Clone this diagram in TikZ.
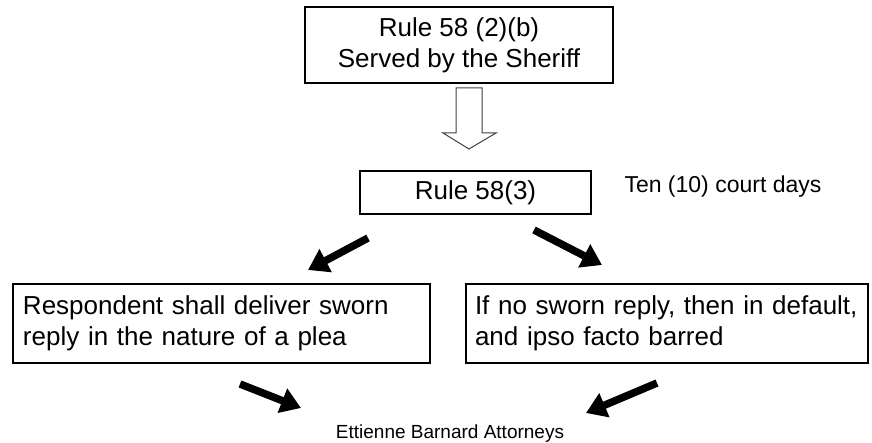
\documentclass[tikz,border=0pt]{standalone}
\usepackage{fontspec}
\setmainfont{Liberation Sans}
\usetikzlibrary{arrows.meta}
\hyphenpenalty=10000
\exhyphenpenalty=10000
\begin{document}
\begin{tikzpicture}[x=1pt,y=-1pt,
  box/.style={draw=black,line width=2pt,inner sep=0pt,font=\fontsize{26}{31}\selectfont},
  lbox/.style={box,inner xsep=10pt,align=left,minimum height=79pt},
  blackarrow/.style={line width=7.5pt,-{Triangle[length=20pt,width=25pt]}},
  hollow/.style={draw=black!75,line width=1pt,fill=white}]
\useasboundingbox (0,0) rectangle (872,443);
\node[box,align=center,minimum width=308pt,minimum height=76pt] (top) at (459,45) {Rule 58 (2)(b)\\Served by the Sheriff};
\node[box,minimum width=231pt,minimum height=43pt] (rule) at (475.5,192.5) {Rule 58(3)};
\node[font=\fontsize{23}{27}\selectfont,anchor=base west] (ten) at (621,193) {Ten (10) court days};
\node[lbox,text width=397pt] (left) at (221.5,323.5) {Respondent shall deliver sworn\\reply in the nature of a plea};
\node[lbox,inner xsep=9pt,text width=384pt] (right) at (667,323.5) {If no sworn reply, then in default,\\and ipso facto barred};
\node[font=\fontsize{19}{23}\selectfont,anchor=base] (eb) at (450,438) {Ettienne Barnard Attorneys};
% hollow block arrow
\draw[hollow] (456,88) -- (482,88) -- (482,133) -- (496,133) -- (469,149) -- (443,133) -- (456,133) -- cycle;
% black arrows
\coordinate (a1s) at (368,238); \coordinate (a1e) at (308,270);
\coordinate (a2s) at (534,230); \coordinate (a2e) at (602,265);
\coordinate (a3s) at (240,384); \coordinate (a3e) at (301,408);
\coordinate (a4s) at (657,383); \coordinate (a4e) at (586,413);
\draw[blackarrow] (a1s) -- (a1e);
\draw[blackarrow] (a2s) -- (a2e);
\draw[blackarrow] (a3s) -- (a3e);
\draw[blackarrow] (a4s) -- (a4e);
\end{tikzpicture}
\end{document}
